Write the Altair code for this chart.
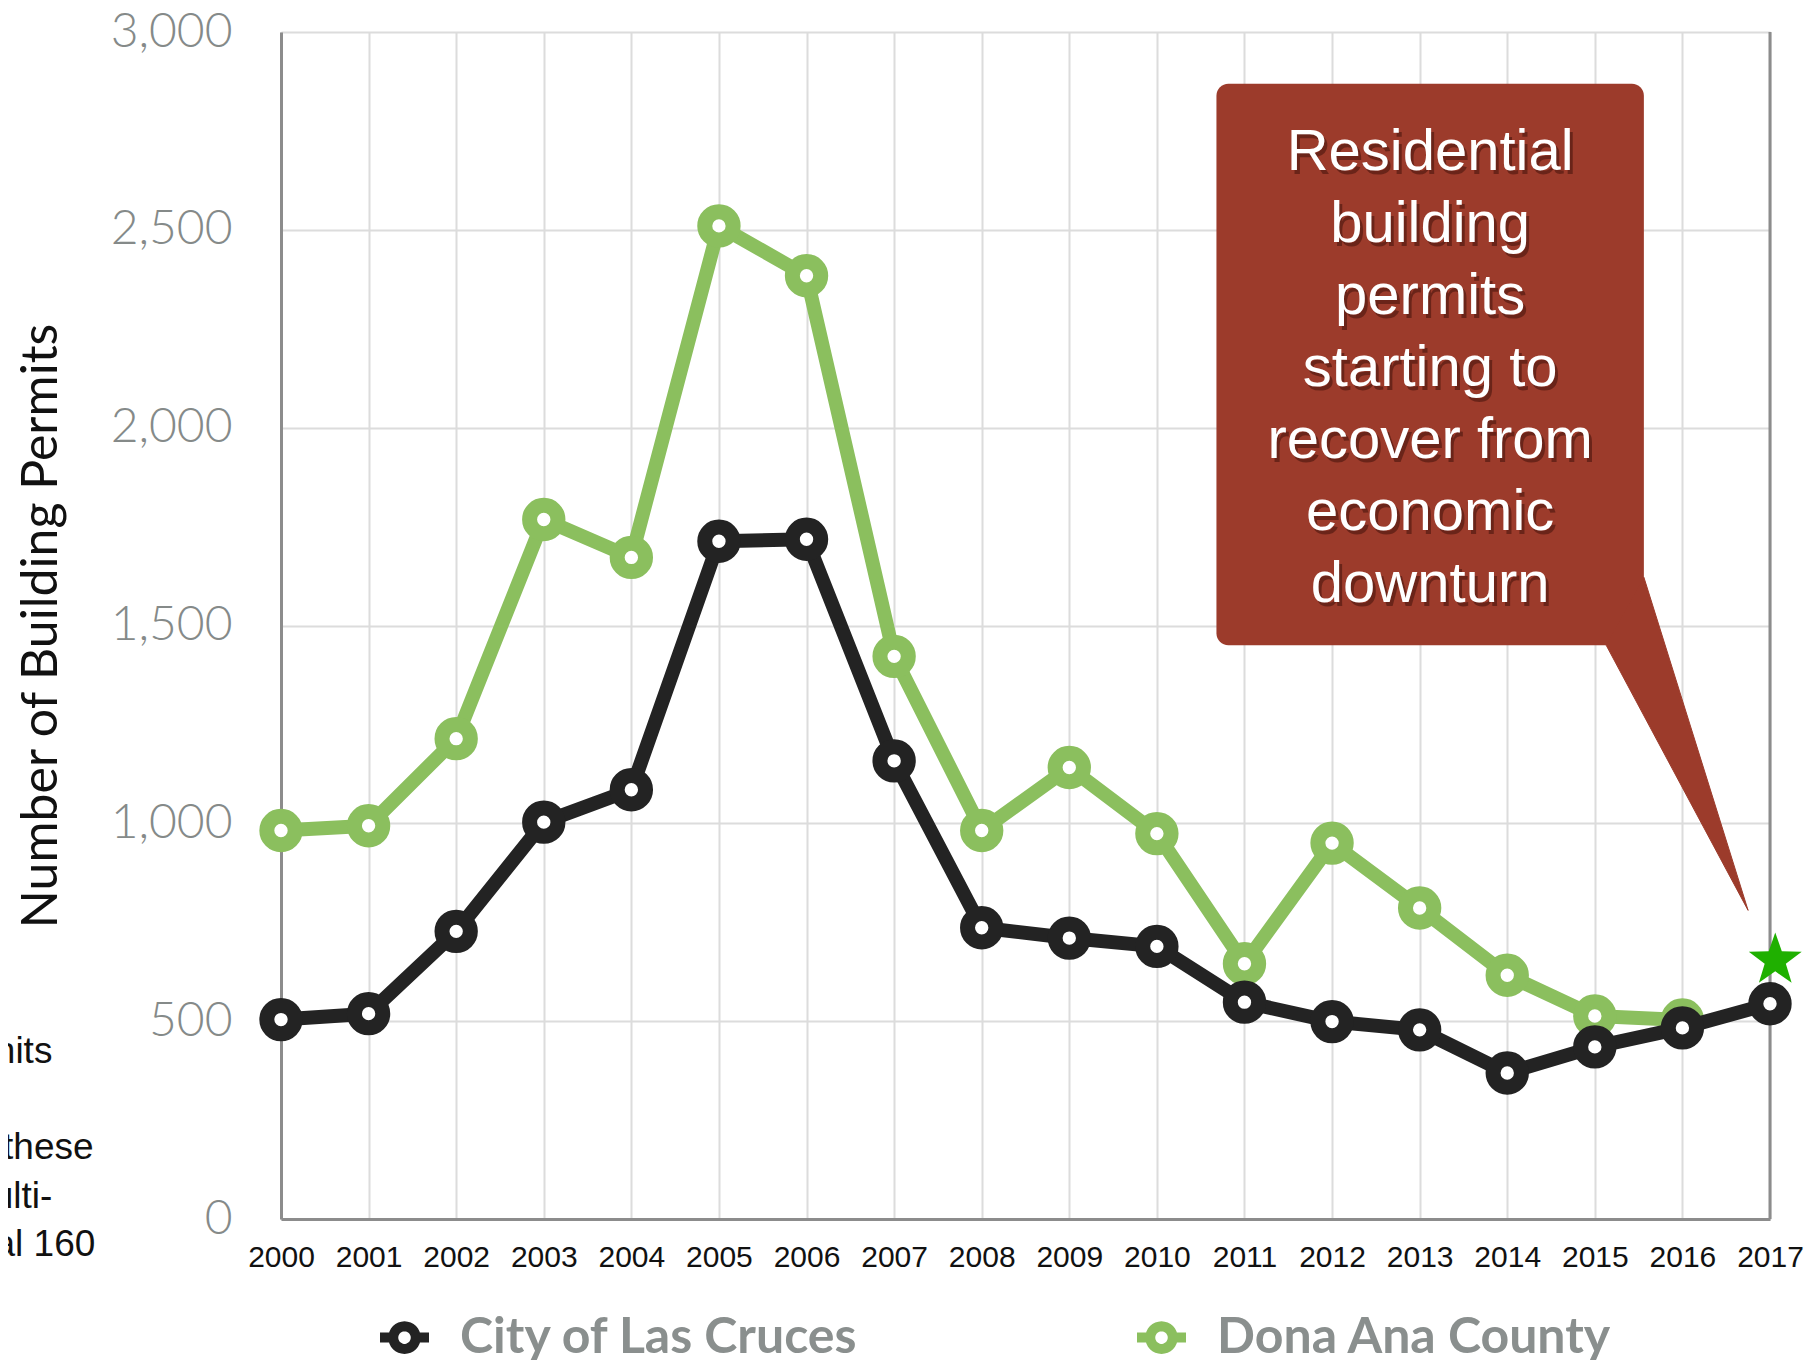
import altair as alt
import pandas as pd
import numpy as np

# ---------------- data ----------------
YEARS = list(range(2000, 2018))
CITY = [504, 519, 727, 1003, 1085, 1713, 1718, 1158, 736, 710, 689, 548, 499, 478, 369, 435, 483, 544]
COUNTY_YEARS = list(range(2000, 2017))
COUNTY = [982, 994, 1214, 1768, 1672, 2510, 2384, 1422, 982, 1141, 974, 645, 950, 786, 616, 513, 503]
SERIES = ["City of Las Cruces", "Dona Ana County"]
COLORS = ["#232323", "#8bbf5e"]
Y_TICKS = [0, 500, 1000, 1500, 2000, 2500, 3000]

CALLOUT_LINES = ["Residential", "building", "permits", "starting to",
                 "recover from", "economic", "downturn"]
# callout geometry in data units (year, permits)
BOX_X = [2010.68, 2015.56]
BOX_Y = [2869, 1450]
POINTER_X = [2015.13, 2015.56, 2016.75, 2015.13]
POINTER_Y = [1450, 1622, 780, 1450]
CALLOUT_TEXT_POS = [2013.12, 2693]   # first line centre
STAR_POS = [2017.06, 654]
BORDER_YEAR = [2017]

# cut-off text fragments at the left edge of the slide
FRAG_TEXT = ["nits", "these", "ulti-", "al 160"]
FRAG_X = [1997.39, 1997.86, 1997.39, 1997.88]
FRAG_Y = [423, 180, 56, -65]

# ---------------- frames ----------------
city_df = pd.DataFrame({"year": YEARS, "value": CITY, "series": SERIES[0]})
county_df = pd.DataFrame({"year": COUNTY_YEARS, "value": COUNTY, "series": SERIES[1]})
box_df = pd.DataFrame({"year": [BOX_X[0]], "year2": [BOX_X[1]], "value": [BOX_Y[0]], "value2": [BOX_Y[1]]})
ptr_df = pd.DataFrame({"year": POINTER_X, "value": POINTER_Y, "i": list(range(len(POINTER_X)))})
txt_df = pd.DataFrame({"year": [CALLOUT_TEXT_POS[0]], "value": [CALLOUT_TEXT_POS[1]],
                       "label": ["\n".join(CALLOUT_LINES)]})
star_df = pd.DataFrame({"year": [STAR_POS[0]], "value": [STAR_POS[1]]})
border_df = pd.DataFrame({"year": BORDER_YEAR})
frag_df = pd.DataFrame({"year": FRAG_X, "value": FRAG_Y, "label": FRAG_TEXT})

W, H = 1489, 1187

x_enc = alt.X("year:Q",
              scale=alt.Scale(domain=[2000, 2017], nice=False, zero=False),
              axis=alt.Axis(values=YEARS, format="d", title=None, labelFlush=False,
                            labelOverlap=False, labelFont="Liberation Sans", labelFontSize=30,
                            labelColor="#111111", labelPadding=23, ticks=False,
                            domainColor="#8c8c8c", domainWidth=3,
                            gridColor="#dcdcdc", gridWidth=2))
y_enc = alt.Y("value:Q",
              scale=alt.Scale(domain=[0, 3000], nice=False, zero=True),
              axis=alt.Axis(values=Y_TICKS, format=",.0f", title="Number of Building Permits",
                            labelFont="Lato", labelFontWeight=300, labelFontSize=48,
                            labelColor="#858a89", labelPadding=49, ticks=False,
                            domainColor="#8c8c8c", domainWidth=3,
                            gridColor="#dcdcdc", gridWidth=2,
                            titleFont="Lato", titleFontSize=50, titleFontWeight=400,
                            titleColor="#111111", titleX=-240, titleY=H / 2,
                            titleAngle=-90, titleAlign="center", titleBaseline="middle"))

# legend symbol: ring with short stubs (line + point)
ang = np.linspace(0, 2 * np.pi, 33)[:-1]
ring = "M" + " L".join(f"{0.46 * np.cos(a):.3f},{0.46 * np.sin(a):.3f}" for a in ang) + " Z"
legend_symbol = ring + " M-1,0 L-0.46,0 M0.46,0 L1,0"

# five-pointed star shape path
sa = np.linspace(-np.pi / 2, 1.5 * np.pi, 11)[:-1]
sr = [1.0 if k % 2 == 0 else 0.4 for k in range(10)]
star_path = "M" + " L".join(f"{r * np.cos(a):.3f},{r * np.sin(a):.3f}" for r, a in zip(sr, sa)) + " Z"

legend = alt.Legend(title=None, orient="none", direction="horizontal",
                    legendX=94, legendY=1276, padding=0,
                    symbolType=legend_symbol, symbolSize=2401, symbolStrokeWidth=10,
                    symbolFillColor="white", labelFont="Lato", labelFontWeight="bold",
                    labelFontSize=50, labelColor="#8a8f8e", labelOffset=26,
                    columnPadding=258, labelLimit=600)
stroke_enc = alt.Stroke("series:N", scale=alt.Scale(domain=SERIES, range=COLORS), legend=legend)

county_line = alt.Chart(county_df).mark_line(strokeWidth=14, strokeJoin="round").encode(
    x=x_enc, y=y_enc, stroke=stroke_enc)
county_pts = alt.Chart(county_df).mark_point(filled=False, fill="white", fillOpacity=1,
                                             strokeWidth=15, size=804, opacity=1).encode(
    x=x_enc, y=y_enc, stroke=stroke_enc)
city_line = alt.Chart(city_df).mark_line(strokeWidth=14, strokeJoin="round").encode(
    x=x_enc, y=y_enc, stroke=stroke_enc)
city_pts = alt.Chart(city_df).mark_point(filled=False, fill="white", fillOpacity=1,
                                         strokeWidth=15, size=804, opacity=1).encode(
    x=x_enc, y=y_enc, stroke=stroke_enc)

right_border = alt.Chart(border_df).mark_rule(color="#8c8c8c", strokeWidth=3).encode(x=x_enc)

box = alt.Chart(box_df).mark_rect(color="#9c3b2b", cornerRadius=12).encode(
    x=x_enc, x2="year2:Q", y=y_enc, y2="value2:Q")
pointer = alt.Chart(ptr_df).mark_line(fill="#9c3b2b", stroke="#9c3b2b", strokeWidth=1).encode(
    x=x_enc, y=y_enc, order="i:Q")
shadow = alt.Chart(txt_df).mark_text(font="Liberation Sans", fontSize=58, lineHeight=72,
                                     lineBreak="\n", color="#3a0f08", opacity=0.5,
                                     dx=3, dy=4, align="center", baseline="middle").encode(
    x=x_enc, y=y_enc, text="label:N")
callout_text = alt.Chart(txt_df).mark_text(font="Liberation Sans", fontSize=58, lineHeight=72,
                                           lineBreak="\n", color="white",
                                           align="center", baseline="middle").encode(
    x=x_enc, y=y_enc, text="label:N")
star = alt.Chart(star_df).mark_point(shape=star_path, filled=True, color="#1fb000",
                                     size=3100, opacity=1, strokeWidth=0).encode(x=x_enc, y=y_enc)
frags = alt.Chart(frag_df).mark_text(font="Liberation Sans", fontSize=37, color="#111111",
                                     align="right", baseline="middle").encode(
    x=x_enc, y=y_enc, text="label:N")

chart = alt.layer(
    right_border, county_line, county_pts, city_line, city_pts,
    box, pointer, shadow, callout_text, star, frags
).properties(
    width=W, height=H,
    autosize=alt.AutoSizeParams(type="none"),
    padding={"left": 273, "top": 24, "right": 40, "bottom": 170},
).configure_view(stroke=None).configure(background="white")

chart.save("out.html", embed_options={"renderer": "svg", "actions": False})
